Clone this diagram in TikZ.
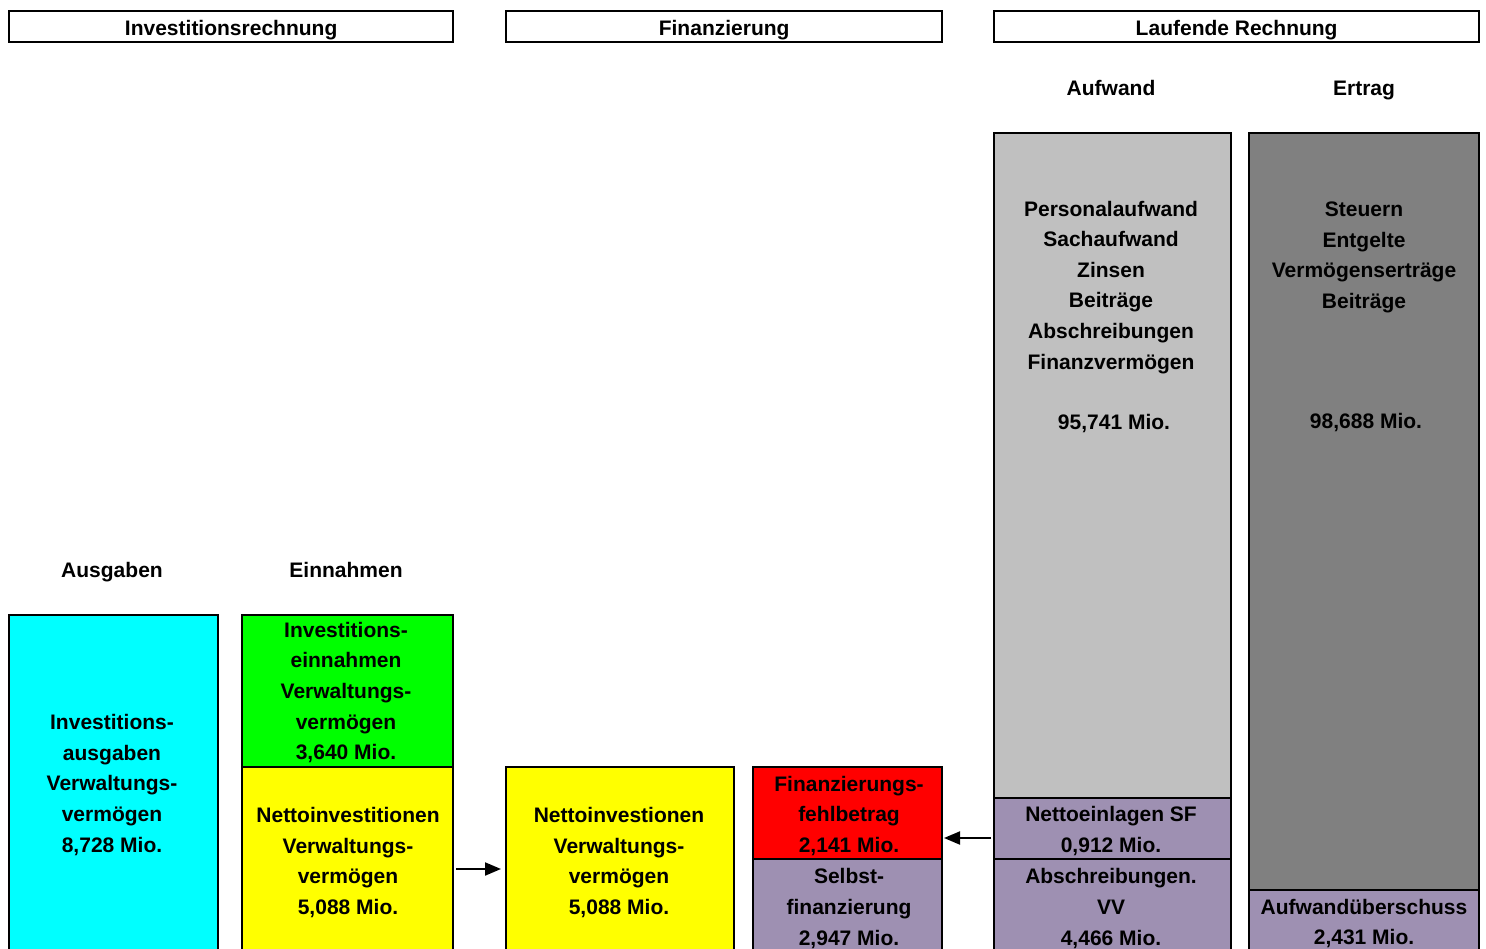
\documentclass[tikz,border=0pt]{standalone}
\usepackage{fontspec}
\setmainfont{Liberation Sans}
\usetikzlibrary{arrows.meta}
\definecolor{lila}{RGB}{158,144,178}
\definecolor{hellgrau}{RGB}{192,192,192}
\definecolor{dunkelgrau}{RGB}{128,128,128}
\definecolor{cyanx}{RGB}{0,255,255}
\definecolor{gruen}{RGB}{0,255,0}
\definecolor{gelb}{RGB}{255,255,0}
\definecolor{rot}{RGB}{255,0,0}
\begin{document}
\begin{tikzpicture}[x=1pt,y=-1pt,
  box/.style={draw=black,line width=2pt,anchor=north west,inner sep=0pt},
  hdr/.style={draw=black,line width=2.3pt,anchor=north west,inner sep=0pt,minimum height=31pt,
    text height=17pt,text depth=0pt,font=\bfseries\fontsize{21}{25}\selectfont},
  txt/.style={font=\bfseries\fontsize{21}{30.6}\selectfont,align=center,inner sep=0pt},
  lbl/.style={font=\bfseries\fontsize{21}{25}\selectfont,inner sep=0pt,anchor=base},
  arr/.style={line width=2pt,-{Triangle[length=16pt,width=13pt]}}
]
\useasboundingbox (0,0) rectangle (1486,949);
\begin{scope}
\clip (0,0) rectangle (1486,949);
% headers
\node[hdr,minimum width=444pt] (h1) at (8,10) {Investitionsrechnung};
\node[hdr,minimum width=436pt] (h2) at (505,10) {Finanzierung};
\node[hdr,minimum width=485pt] (h3) at (993,10) {Laufende Rechnung};
% column labels
\node[lbl] (lauf) at (1111,95.5) {Aufwand};
\node[lbl] (lert) at (1364,95.5) {Ertrag};
\node[lbl] (lausg) at (112,577.5) {Ausgaben};
\node[lbl] (lein) at (346,577.5) {Einnahmen};
% boxes
\node[box,fill=cyanx,minimum width=209pt,minimum height=360pt] (cyan) at (8,614) {};
\node[box,fill=gruen,minimum width=211pt,minimum height=152pt] (green) at (241,614) {};
\node[box,fill=gelb,minimum width=211pt,minimum height=200pt] (yel1) at (241,766) {};
\node[box,fill=gelb,minimum width=228pt,minimum height=200pt] (yel2) at (505,766) {};
\node[box,fill=rot,minimum width=189pt,minimum height=92pt] (red) at (752,766) {};
\node[box,fill=lila,minimum width=189pt,minimum height=110pt] (selbst) at (752,858) {};
\node[box,fill=hellgrau,minimum width=237pt,minimum height=665pt] (aufw) at (993,132) {};
\node[box,fill=lila,minimum width=237pt,minimum height=61pt] (nsf) at (993,797) {};
\node[box,fill=lila,minimum width=237pt,minimum height=110pt] (abschr) at (993,858) {};
\node[box,fill=dunkelgrau,minimum width=230pt,minimum height=757pt] (ertr) at (1248,132) {};
\node[box,fill=lila,minimum width=230pt,minimum height=80pt] (aues) at (1248,889) {};
% texts
\node[txt] (tcyan) at (112,785) {Investitions-\\ausgaben\\Verwaltungs-\\vermögen\\8,728 Mio.};
\node[txt] (tgreen) at (346,692.5) {Investitions-\\einnahmen\\Verwaltungs-\\vermögen\\3,640 Mio.};
\node[txt] (tyel1) at (348,862.5) {Nettoinvestitionen\\Verwaltungs-\\vermögen\\5,088 Mio.};
\node[txt] (tyel2) at (619,862.5) {Nettoinvestionen\\Verwaltungs-\\vermögen\\5,088 Mio.};
\node[txt] (tred) at (849,816) {Finanzierungs-\\fehlbetrag\\2,141 Mio.};
\node[txt] (tselbst) at (849,908.5) {Selbst-\\finanzierung\\2,947 Mio.};
\node[txt] (taufw) at (1111,317) {Personalaufwand\\Sachaufwand\\Zinsen\\Beiträge\\Abschreibungen\\Finanzvermögen\\[30pt]\hspace*{6pt}95,741 Mio.};
\node[txt] (tertr) at (1364,317) {Steuern\\Entgelte\\Vermögenserträge\\Beiträge\\[90pt]\hspace*{4pt}98,688 Mio.};
\node[txt] (tnsf) at (1111,831) {Nettoeinlagen SF\\0,912 Mio.};
\node[txt] (tabschr) at (1111,908.5) {Abschreibungen.\\VV\\4,466 Mio.};
\node[txt] (taues) at (1364,923.5) {Aufwandüberschuss\\2,431 Mio.};
% arrows
\coordinate (a1) at (455,869);
\coordinate (a2) at (990,838);
\draw[arr,shorten <=2pt,shorten >=4pt] (yel1.east |- a1) -- (yel2.west |- a1);
\draw[arr,shorten <=2pt,shorten >=1pt] (nsf.west |- a2) -- (red.east |- a2);
\end{scope}
\end{tikzpicture}
\end{document}
